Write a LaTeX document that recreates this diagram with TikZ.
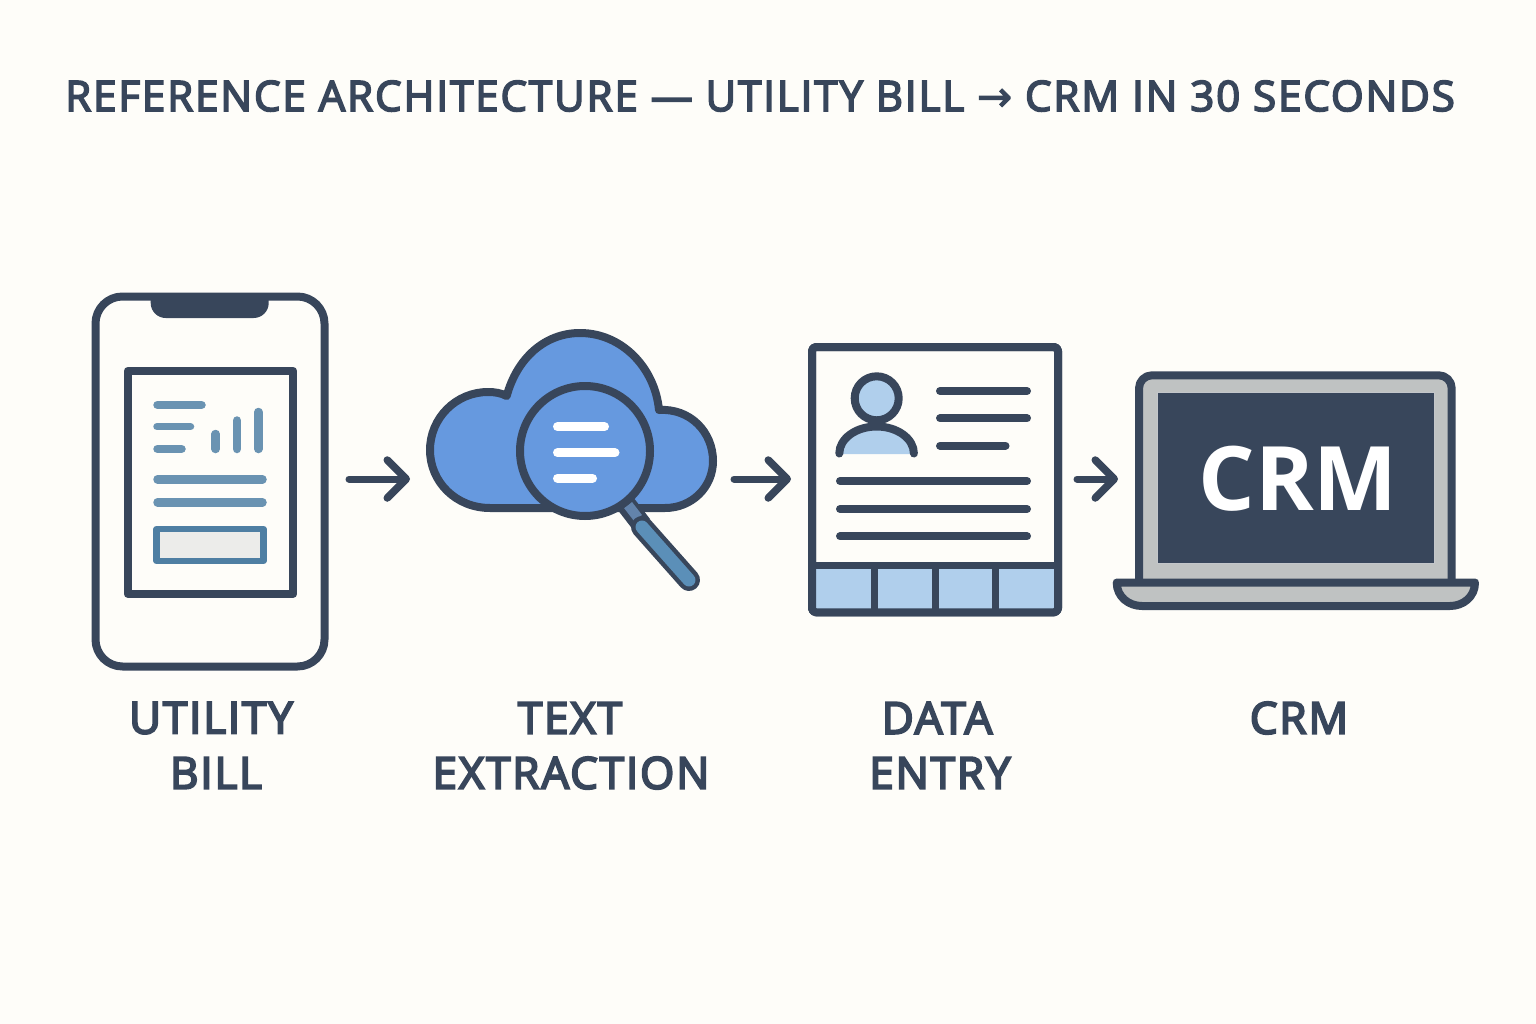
\documentclass[tikz,border=0pt]{standalone}
\usepackage{fontspec}
\usetikzlibrary{arrows.meta}
\setmainfont{Open Sans}
\newfontfamily\titlefont[FakeBold=4,LetterSpace=4.6]{Open Sans}
\newfontfamily\capsfont[FakeBold=4.5,LetterSpace=4.2]{Open Sans}
\newfontfamily\symfont[FakeBold=2]{DejaVu Sans}
\newfontfamily\crmfont{Open Sans Bold}
\definecolor{bgc}{HTML}{FEFDF9}
\definecolor{ink}{HTML}{38465B}
\definecolor{docblue}{HTML}{6A93B2}
\definecolor{boxblue}{HTML}{4F7FA3}
\definecolor{boxfill}{HTML}{ECECEA}
\definecolor{cloudblue}{HTML}{6699DF}
\definecolor{handleblue}{HTML}{5B8FB8}
\definecolor{neckblue}{HTML}{6383AB}
\definecolor{lightblue}{HTML}{B0CFEC}
\definecolor{lidgray}{HTML}{BFC2C2}
\tikzset{
  iconslot/.style={inner sep=0pt,outer sep=0pt,minimum width=#1},
  outline/.style={draw=ink,line width=8pt,line join=round},
  docline/.style={draw=docblue,line width=8.5pt,line cap=round},
  cardline/.style={draw=ink,line width=8pt,line cap=round},
  whiteline/.style={draw=white,line width=9pt,line cap=round},
  flow/.style={draw=ink,line width=7pt,line cap=round,-{Straight Barb[length=19pt,width=38pt,round,line width=7.5pt]}},
  caption/.style={text=ink,inner sep=0pt,font=\capsfont\fontsize{44}{44}\selectfont},
  titletext/.style={text=ink,inner sep=0pt,font=\titlefont\fontsize{42}{42}\selectfont},
}
\begin{document}
\begin{tikzpicture}[x=1pt,y=-1pt]
\useasboundingbox (0,0) rectangle (1536,1024);
\fill[bgc] (0,0) rectangle (1536,1024);

\node[titletext,anchor=center] (title) at (760,96) {REFERENCE ARCHITECTURE — UTILITY BILL {\symfont →} CRM IN 30 SECONDS};

% icon slots used as connector ends
\node[iconslot=236pt,minimum height=376pt] (phone) at (210,479) {};
\node[iconslot=290pt,minimum height=260pt] (cloud) at (572,479) {};
\node[iconslot=254pt,minimum height=272pt] (card) at (935,479) {};
\node[iconslot=320pt,minimum height=200pt] (laptop) at (1296,479) {};

% phone
\draw[outline,fill=bgc,rounded corners=27pt] (95.5,296.5) rectangle (324.5,666.5);
\fill[ink] (150.7,296) -- (268.7,296) -- (268.7,303) .. controls (268.7,311.3) and (262,318) .. (253.7,318) -- (165.7,318) .. controls (157.4,318) and (150.7,311.3) .. (150.7,303) -- cycle;
\draw[outline,fill=bgc] (127.7,371) rectangle (293.3,594);
\draw[docline] (157.5,405) -- (201.5,405);
\draw[docline,line width=7.5pt] (157,426.7) -- (190.5,426.7);
\draw[docline] (157.5,449) -- (181.5,449);
\draw[docline] (215.7,434) -- (215.7,449);
\draw[docline] (237,420.5) -- (237,449);
\draw[docline] (258.3,412) -- (258.3,449);
\draw[docline] (157.5,479.3) -- (262.5,479.3);
\draw[docline] (157.5,502.3) -- (262.5,502.3);
\draw[draw=boxblue,fill=boxfill,line width=6.5pt,line join=round] (156.7,529) rectangle (263.3,561);

% cloud and magnifier
\draw[outline,fill=cloudblue] (506.7,396) .. controls (517,358) and (545,333) .. (580,333)
  .. controls (622,333) and (655,368) .. (659,410)
  .. controls (690,408) and (713,432) .. (713,461)
  .. controls (713,487) and (692,508) .. (665,508) -- (490,508)
  .. controls (456,508) and (430,482) .. (430,450)
  .. controls (430,418) and (456,392) .. (488,392)
  .. controls (495,392) and (501,393) .. (506.7,396) -- cycle;
\draw[draw=ink,line width=20pt] (625,503) -- (642,525);
\draw[draw=neckblue,line width=10pt] (628,505) -- (638,518);
\draw[draw=ink,line width=22pt,line cap=round] (642,527) -- (689,580);
\draw[draw=handleblue,line width=13pt,line cap=round] (642,527) -- (689,580);
\draw[outline,fill=cloudblue] (585,451) circle[radius=65pt];
\draw[whiteline] (557.5,426.7) -- (604.5,426.7);
\draw[whiteline] (557.5,452.7) -- (615,452.7);
\draw[whiteline] (557.5,478.3) -- (592.5,478.3);

% data card
\draw[outline,fill=bgc,rounded corners=4pt] (812,347) rectangle (1058,612.3);
\fill[lightblue] (812,565) rectangle (1058,612);
\draw[draw=ink,line width=7pt] (874.7,565) -- (874.7,612) (935,565) -- (935,612) (995.7,565) -- (995.7,612);
\draw[draw=ink,line width=7pt] (812,565) -- (1058,565);
\draw[outline,fill=none,rounded corners=4pt] (812,347) rectangle (1058,612.3);
\fill[lightblue] (839.3,454) arc[start angle=180,end angle=0,x radius=37.3pt,y radius=27pt] -- cycle;
\draw[draw=ink,line width=8pt,line cap=round] (839.3,453.5) arc[start angle=180,end angle=0,x radius=37.3pt,y radius=27pt];
\draw[draw=ink,fill=lightblue,line width=8pt] (876.7,398.3) circle[radius=22pt];
\draw[cardline] (840,481) -- (1027,481);
\draw[cardline] (840,509) -- (1027,509);
\draw[cardline] (840,536.3) -- (1027,536.3);
\draw[cardline] (940,391) -- (1027,391);
\draw[cardline] (940,418.3) -- (1027,418.3);
\draw[cardline] (940,445.7) -- (1005.5,445.7);

% laptop
\draw[outline,fill=lidgray] (1139,585) -- (1139,388.3) arc[start angle=180,end angle=90,radius=13pt] -- (1438.7,375.3) arc[start angle=90,end angle=0,radius=13pt] -- (1451.7,585);
\draw[draw=bgc!70!ink,line width=1pt,fill=ink] (1157,392) rectangle (1434,563.3);
\node[text=white,inner sep=0pt,font=\crmfont\fontsize{89}{89}\selectfont] (screenlabel) at (1298,478.7) {CRM};
\draw[outline,fill=lidgray] (1116.7,582.5) -- (1475,582.5) .. controls (1475,597) and (1463,606) .. (1450,606) -- (1142,606) .. controls (1129,606) and (1116.7,597) .. (1116.7,582.5) -- cycle;

% captions
\node[caption] (l1a) at (211,718) {UTILITY};
\node[caption] (l1b) at (216,773) {BILL};
\node[caption] (l2a) at (570,718) {TEXT};
\node[caption] (l2b) at (571,773) {EXTRACTION};
\node[caption] (l3a) at (937,718) {DATA};
\node[caption] (l3b) at (940,773) {ENTRY};
\node[caption] (l4a) at (1299,718) {CRM};

% connectors
\draw[flow,shorten <=21pt,shorten >=17pt] (phone.east) -- (cloud.west);
\draw[flow,shorten <=17pt,shorten >=17pt] (cloud.east) -- (card.west);
\draw[flow,shorten <=15pt,shorten >=18pt] (card.east) -- (laptop.west);
\end{tikzpicture}
\end{document}
